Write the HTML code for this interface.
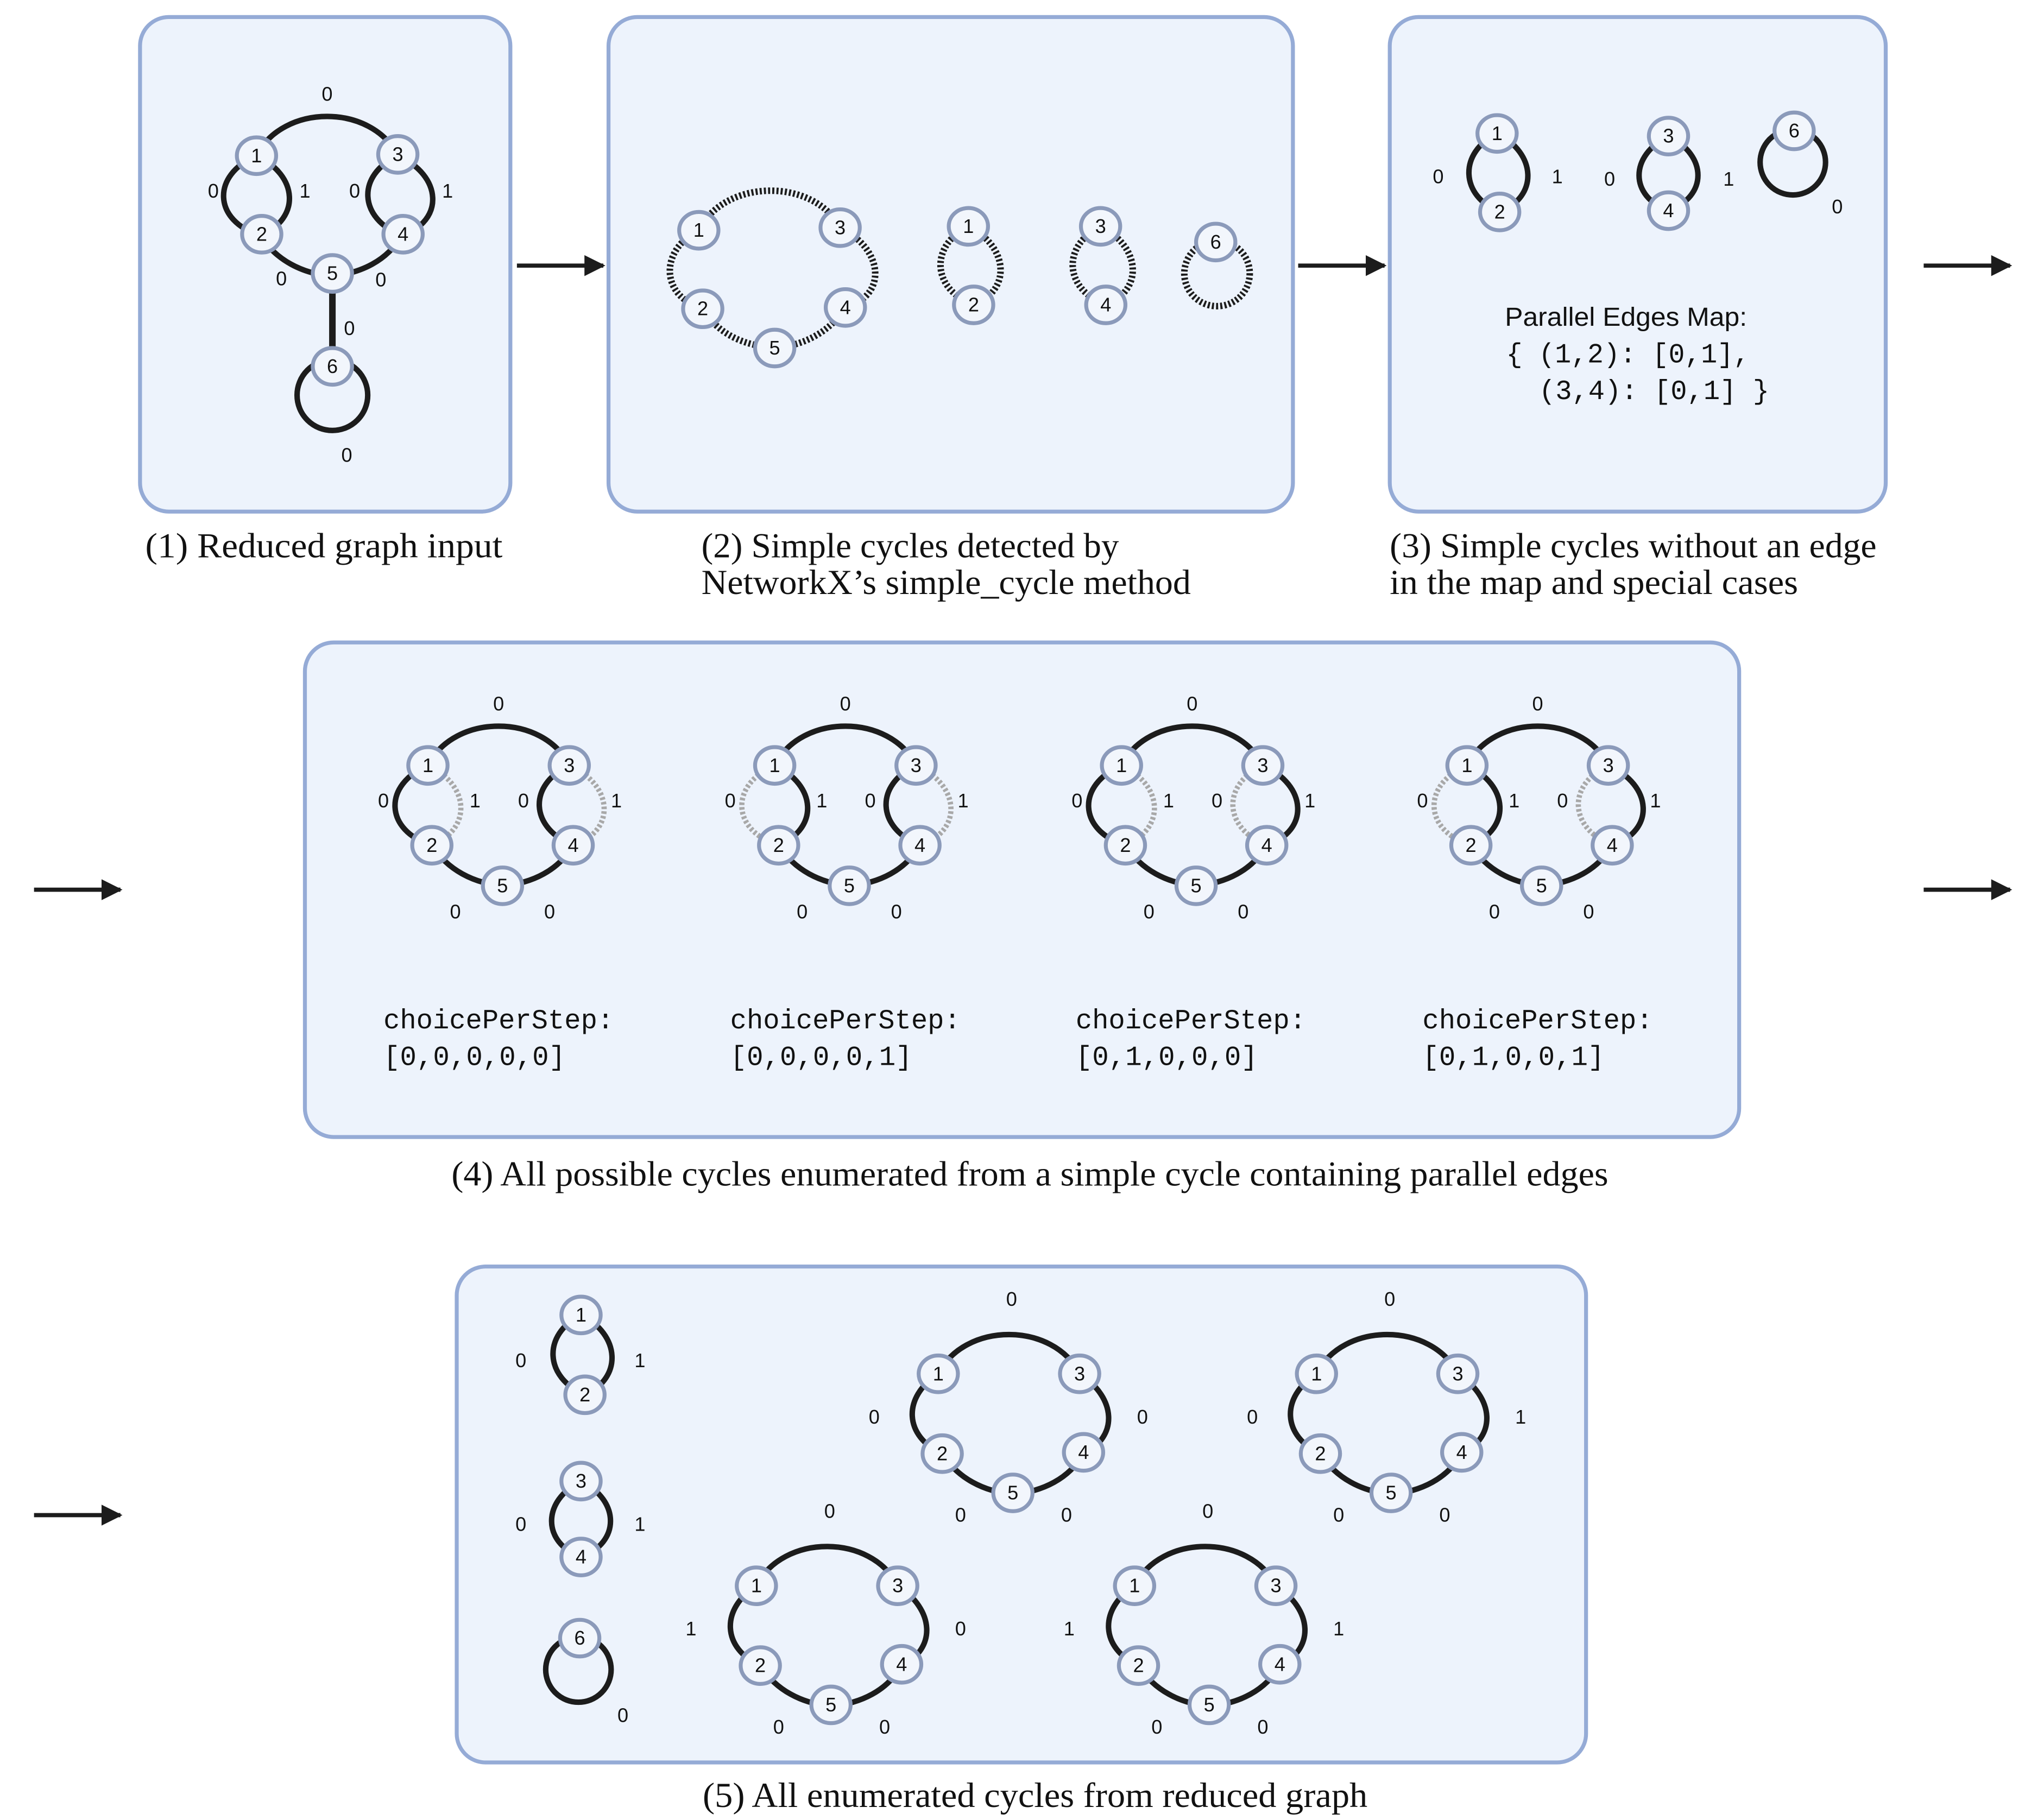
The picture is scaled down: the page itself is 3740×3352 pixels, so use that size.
<!DOCTYPE html>
<html><head><meta charset="utf-8"><style>
html,body{margin:0;padding:0;background:#fff;}
svg{display:block;}
.bx{fill:#edf3fc;stroke:#95abd6;stroke-width:3;}
.e{fill:none;stroke:#1c1c1c;stroke-width:4.2;}
.d{fill:none;stroke:#1c1c1c;stroke-width:5;stroke-dasharray:1.6 1.6;}
.g{fill:none;stroke:#a8a8a8;stroke-width:4;stroke-dasharray:2 1.6;}
.nd{fill:#f2f6fc;stroke:#8b9aba;stroke-width:3;}
.nt{font-family:"Liberation Sans",sans-serif;font-size:15px;text-anchor:middle;fill:#111;}
.lb{font-family:"Liberation Sans",sans-serif;font-size:15px;text-anchor:middle;fill:#111;}
.cap{font-family:"Liberation Serif",serif;font-size:27px;fill:#111;}
.mono{font-family:"Liberation Mono",monospace;font-size:21px;fill:#111;}
.mono2{font-family:"Liberation Mono",monospace;font-size:21px;fill:#111;}
.sans{font-family:"Liberation Sans",sans-serif;font-size:20px;fill:#111;}
.ar{stroke:#1c1c1c;stroke-width:3.2;}
</style></head><body>
<svg width="3740" height="3352" viewBox="0 0 1552 1391" xmlns="http://www.w3.org/2000/svg">
<defs>
<marker id="ah" viewBox="0 0 10 10" refX="9" refY="5" markerWidth="5" markerHeight="5" orient="auto" markerUnits="strokeWidth"><path d="M0,0L10,5L0,10z" fill="#1c1c1c"/></marker>
</defs>

<rect class="bx" x="107" y="13" width="283" height="378" rx="22"/>
<rect class="bx" x="465" y="13" width="523" height="378" rx="22"/>
<rect class="bx" x="1062" y="13" width="379" height="378" rx="22"/>
<rect class="bx" x="233" y="491" width="1096" height="378" rx="22"/>
<rect class="bx" x="349" y="968" width="863" height="379" rx="22"/>

<line class="ar" x1="395" y1="203" x2="461" y2="203" marker-end="url(#ah)"/>
<line class="ar" x1="992" y1="203" x2="1058" y2="203" marker-end="url(#ah)"/>
<line class="ar" x1="1470" y1="203" x2="1536" y2="203" marker-end="url(#ah)"/>
<line class="ar" x1="26" y1="680" x2="92" y2="680" marker-end="url(#ah)"/>
<line class="ar" x1="1470" y1="680" x2="1536" y2="680" marker-end="url(#ah)"/>
<line class="ar" x1="26" y1="1158" x2="92" y2="1158" marker-end="url(#ah)"/>

<text class="cap" x="111" y="426" textLength="273" lengthAdjust="spacingAndGlyphs">(1) Reduced graph input</text>
<text class="cap" x="536" y="426" textLength="319" lengthAdjust="spacingAndGlyphs">(2) Simple cycles detected by</text>
<text class="cap" x="536" y="454" textLength="374" lengthAdjust="spacingAndGlyphs">NetworkX’s simple_cycle method</text>
<text class="cap" x="1062" y="426" textLength="372" lengthAdjust="spacingAndGlyphs">(3) Simple cycles without an edge</text>
<text class="cap" x="1062" y="454" textLength="312" lengthAdjust="spacingAndGlyphs">in the map and special cases</text>
<text class="cap" x="345" y="906" textLength="884" lengthAdjust="spacingAndGlyphs">(4) All possible cycles enumerated from a simple cycle containing parallel edges</text>
<text class="cap" x="537" y="1381" textLength="508" lengthAdjust="spacingAndGlyphs">(5) All enumerated cycles from reduced graph</text>

<!-- Panel 1 -->
<g transform="translate(196,119)">
<path class="e" d="M0,0 C20,-40 88,-40 108,0"/>
<path class="e" d="M3,61 C15,80 35,90 57,92 M57,92 C80,90 100,80 111,61"/>
<path class="e" d="M0,0 C-35,15 -33,50 3,61"/>
<path class="e" d="M0,0 C32,15 34,48 3,61"/>
<path class="e" d="M108,0 C76,15 78,48 111,61"/>
<path class="e" d="M108,0 C142,15 144,50 111,61"/>
<line class="e" x1="58" y1="92" x2="58" y2="161" style="stroke-width:5"/>
<circle class="e" cx="58" cy="183" r="27"/>
<ellipse class="nd" cx="0" cy="0" rx="15" ry="14"/><text class="nt" x="0" y="5">1</text>
<ellipse class="nd" cx="108" cy="-1" rx="15" ry="14"/><text class="nt" x="108" y="4">3</text>
<ellipse class="nd" cx="4" cy="60" rx="15" ry="14"/><text class="nt" x="4" y="65">2</text>
<ellipse class="nd" cx="112" cy="60" rx="15" ry="14"/><text class="nt" x="112" y="65">4</text>
<ellipse class="nd" cx="58" cy="90" rx="15" ry="14"/><text class="nt" x="58" y="95">5</text>
<ellipse class="nd" cx="58" cy="161" rx="15" ry="14"/><text class="nt" x="58" y="166">6</text>
<text class="lb" x="54" y="-42">0</text>
<text class="lb" x="-33" y="32">0</text>
<text class="lb" x="37" y="32">1</text>
<text class="lb" x="75" y="32">0</text>
<text class="lb" x="146" y="32">1</text>
<text class="lb" x="19" y="99">0</text>
<text class="lb" x="95" y="100">0</text>
<text class="lb" x="71" y="137">0</text>
<text class="lb" x="69" y="234">0</text>
</g>

<!-- Panel 2 -->
<g transform="translate(534,176)">
<path class="d" d="M0,0 C20,-40 88,-40 108,-2"/>
<path class="d" d="M3,60 C15,80 35,88 58,90 M58,90 C80,88 100,78 112,59"/>
<path class="d" d="M0,0 C-30,15 -30,50 3,60"/>
<path class="d" d="M108,-2 C142,15 144,50 112,59"/>
<ellipse class="nd" cx="0" cy="0" rx="15" ry="14"/><text class="nt" x="0" y="5">1</text>
<ellipse class="nd" cx="108" cy="-2" rx="15" ry="14"/><text class="nt" x="108" y="3">3</text>
<ellipse class="nd" cx="3" cy="60" rx="15" ry="14"/><text class="nt" x="3" y="65">2</text>
<ellipse class="nd" cx="112" cy="59" rx="15" ry="14"/><text class="nt" x="112" y="64">4</text>
<ellipse class="nd" cx="58" cy="90" rx="15" ry="14"/><text class="nt" x="58" y="95">5</text>
</g>
<g transform="translate(740,173)">
<path class="d" d="M0,0 C-30,15 -28,48 4,60"/>
<path class="d" d="M0,0 C30,15 34,48 4,60"/>
<ellipse class="nd" cx="0" cy="0" rx="15" ry="14"/><text class="nt" x="0" y="5">1</text>
<ellipse class="nd" cx="4" cy="60" rx="15" ry="14"/><text class="nt" x="4" y="65">2</text>
</g>
<g transform="translate(841,173)">
<path class="d" d="M0,0 C-30,15 -28,48 4,60"/>
<path class="d" d="M0,0 C30,15 34,48 4,60"/>
<ellipse class="nd" cx="0" cy="0" rx="15" ry="14"/><text class="nt" x="0" y="5">3</text>
<ellipse class="nd" cx="4" cy="60" rx="15" ry="14"/><text class="nt" x="4" y="65">4</text>
</g>
<circle class="d" cx="930" cy="209" r="25"/>
<ellipse class="nd" cx="929" cy="185" rx="15" ry="14"/><text class="nt" x="929" y="190">6</text>

<!-- Panel 3 -->
<g transform="translate(1144,102)">
<path class="e" d="M0,0 C-30,15 -28,48 2,60"/>
<path class="e" d="M0,0 C30,15 32,48 2,60"/>
<ellipse class="nd" cx="0" cy="0" rx="15" ry="14"/><text class="nt" x="0" y="5">1</text>
<ellipse class="nd" cx="2" cy="60" rx="15" ry="14"/><text class="nt" x="2" y="65">2</text>
<text class="lb" x="-45" y="38">0</text>
<text class="lb" x="46" y="38">1</text>
</g>
<g transform="translate(1275,104)">
<path class="e" d="M0,0 C-30,15 -30,46 0,57"/>
<path class="e" d="M0,0 C30,15 30,46 0,57"/>
<ellipse class="nd" cx="0" cy="0" rx="15" ry="14"/><text class="nt" x="0" y="5">3</text>
<ellipse class="nd" cx="0" cy="57" rx="15" ry="14"/><text class="nt" x="0" y="62">4</text>
<text class="lb" x="-45" y="38">0</text>
<text class="lb" x="46" y="38">1</text>
</g>
<circle class="e" cx="1370" cy="124" r="25"/>
<ellipse class="nd" cx="1371" cy="100" rx="15" ry="14"/><text class="nt" x="1371" y="105">6</text>
<text class="lb" x="1404" y="163">0</text>
<text class="sans" x="1150" y="249" textLength="185" lengthAdjust="spacingAndGlyphs">Parallel Edges Map:</text>
<text class="mono" x="1151" y="277" textLength="186" lengthAdjust="spacingAndGlyphs">{ (1,2): [0,1],</text>
<text class="mono" x="1176" y="305" textLength="176" lengthAdjust="spacingAndGlyphs">(3,4): [0,1] }</text>

<!-- Panel 4 -->
<g transform="translate(327,585)">
<path class="e" d="M0,0 C20,-40 88,-40 108,0"/>
<path class="e" d="M3,61 C15,80 35,90 57,92 M57,92 C80,90 100,80 111,61"/>
<path class="e" d="M0,0 C-35,15 -33,50 3,61"/>
<path class="g" d="M0,0 C32,15 34,48 3,61"/>
<path class="e" d="M108,0 C76,15 78,48 111,61"/>
<path class="g" d="M108,0 C142,15 144,50 111,61"/>
<ellipse class="nd" cx="0" cy="0" rx="15" ry="14"/><text class="nt" x="0" y="5">1</text>
<ellipse class="nd" cx="108" cy="0" rx="15" ry="14"/><text class="nt" x="108" y="5">3</text>
<ellipse class="nd" cx="3" cy="61" rx="15" ry="14"/><text class="nt" x="3" y="66">2</text>
<ellipse class="nd" cx="111" cy="61" rx="15" ry="14"/><text class="nt" x="111" y="66">4</text>
<ellipse class="nd" cx="57" cy="92" rx="15" ry="14"/><text class="nt" x="57" y="97">5</text>
<text class="lb" x="54" y="-42">0</text><text class="lb" x="-34" y="32">0</text><text class="lb" x="36" y="32">1</text><text class="lb" x="73" y="32">0</text><text class="lb" x="144" y="32">1</text><text class="lb" x="21" y="117">0</text><text class="lb" x="93" y="117">0</text>
</g>
<g transform="translate(592,585)">
<path class="e" d="M0,0 C20,-40 88,-40 108,0"/>
<path class="e" d="M3,61 C15,80 35,90 57,92 M57,92 C80,90 100,80 111,61"/>
<path class="g" d="M0,0 C-35,15 -33,50 3,61"/>
<path class="e" d="M0,0 C32,15 34,48 3,61"/>
<path class="e" d="M108,0 C76,15 78,48 111,61"/>
<path class="g" d="M108,0 C142,15 144,50 111,61"/>
<ellipse class="nd" cx="0" cy="0" rx="15" ry="14"/><text class="nt" x="0" y="5">1</text>
<ellipse class="nd" cx="108" cy="0" rx="15" ry="14"/><text class="nt" x="108" y="5">3</text>
<ellipse class="nd" cx="3" cy="61" rx="15" ry="14"/><text class="nt" x="3" y="66">2</text>
<ellipse class="nd" cx="111" cy="61" rx="15" ry="14"/><text class="nt" x="111" y="66">4</text>
<ellipse class="nd" cx="57" cy="92" rx="15" ry="14"/><text class="nt" x="57" y="97">5</text>
<text class="lb" x="54" y="-42">0</text><text class="lb" x="-34" y="32">0</text><text class="lb" x="36" y="32">1</text><text class="lb" x="73" y="32">0</text><text class="lb" x="144" y="32">1</text><text class="lb" x="21" y="117">0</text><text class="lb" x="93" y="117">0</text>
</g>
<g transform="translate(857,585)">
<path class="e" d="M0,0 C20,-40 88,-40 108,0"/>
<path class="e" d="M3,61 C15,80 35,90 57,92 M57,92 C80,90 100,80 111,61"/>
<path class="e" d="M0,0 C-35,15 -33,50 3,61"/>
<path class="g" d="M0,0 C32,15 34,48 3,61"/>
<path class="g" d="M108,0 C76,15 78,48 111,61"/>
<path class="e" d="M108,0 C142,15 144,50 111,61"/>
<ellipse class="nd" cx="0" cy="0" rx="15" ry="14"/><text class="nt" x="0" y="5">1</text>
<ellipse class="nd" cx="108" cy="0" rx="15" ry="14"/><text class="nt" x="108" y="5">3</text>
<ellipse class="nd" cx="3" cy="61" rx="15" ry="14"/><text class="nt" x="3" y="66">2</text>
<ellipse class="nd" cx="111" cy="61" rx="15" ry="14"/><text class="nt" x="111" y="66">4</text>
<ellipse class="nd" cx="57" cy="92" rx="15" ry="14"/><text class="nt" x="57" y="97">5</text>
<text class="lb" x="54" y="-42">0</text><text class="lb" x="-34" y="32">0</text><text class="lb" x="36" y="32">1</text><text class="lb" x="73" y="32">0</text><text class="lb" x="144" y="32">1</text><text class="lb" x="21" y="117">0</text><text class="lb" x="93" y="117">0</text>
</g>
<g transform="translate(1121,585)">
<path class="e" d="M0,0 C20,-40 88,-40 108,0"/>
<path class="e" d="M3,61 C15,80 35,90 57,92 M57,92 C80,90 100,80 111,61"/>
<path class="g" d="M0,0 C-35,15 -33,50 3,61"/>
<path class="e" d="M0,0 C32,15 34,48 3,61"/>
<path class="g" d="M108,0 C76,15 78,48 111,61"/>
<path class="e" d="M108,0 C142,15 144,50 111,61"/>
<ellipse class="nd" cx="0" cy="0" rx="15" ry="14"/><text class="nt" x="0" y="5">1</text>
<ellipse class="nd" cx="108" cy="0" rx="15" ry="14"/><text class="nt" x="108" y="5">3</text>
<ellipse class="nd" cx="3" cy="61" rx="15" ry="14"/><text class="nt" x="3" y="66">2</text>
<ellipse class="nd" cx="111" cy="61" rx="15" ry="14"/><text class="nt" x="111" y="66">4</text>
<ellipse class="nd" cx="57" cy="92" rx="15" ry="14"/><text class="nt" x="57" y="97">5</text>
<text class="lb" x="54" y="-42">0</text><text class="lb" x="-34" y="32">0</text><text class="lb" x="36" y="32">1</text><text class="lb" x="73" y="32">0</text><text class="lb" x="144" y="32">1</text><text class="lb" x="21" y="117">0</text><text class="lb" x="93" y="117">0</text>
</g>
<text class="mono2" x="293" y="786" textLength="176" lengthAdjust="spacingAndGlyphs">choicePerStep:</text><text class="mono2" x="293" y="814" textLength="139" lengthAdjust="spacingAndGlyphs">[0,0,0,0,0]</text>
<text class="mono2" x="558" y="786" textLength="176" lengthAdjust="spacingAndGlyphs">choicePerStep:</text><text class="mono2" x="558" y="814" textLength="139" lengthAdjust="spacingAndGlyphs">[0,0,0,0,1]</text>
<text class="mono2" x="822" y="786" textLength="176" lengthAdjust="spacingAndGlyphs">choicePerStep:</text><text class="mono2" x="822" y="814" textLength="139" lengthAdjust="spacingAndGlyphs">[0,1,0,0,0]</text>
<text class="mono2" x="1087" y="786" textLength="176" lengthAdjust="spacingAndGlyphs">choicePerStep:</text><text class="mono2" x="1087" y="814" textLength="139" lengthAdjust="spacingAndGlyphs">[0,1,0,0,1]</text>

<!-- Panel 5 small -->
<g transform="translate(444,1005)">
<path class="e" d="M0,0 C-30,15 -28,48 3,61"/>
<path class="e" d="M0,0 C30,15 32,48 3,61"/>
<ellipse class="nd" cx="0" cy="0" rx="15" ry="14"/><text class="nt" x="0" y="5">1</text>
<ellipse class="nd" cx="3" cy="61" rx="15" ry="14"/><text class="nt" x="3" y="66">2</text>
<text class="lb" x="-46" y="40">0</text><text class="lb" x="45" y="40">1</text>
</g>
<g transform="translate(444,1132)">
<path class="e" d="M0,0 C-30,15 -30,47 0,58"/>
<path class="e" d="M0,0 C30,15 30,47 0,58"/>
<ellipse class="nd" cx="0" cy="0" rx="15" ry="14"/><text class="nt" x="0" y="5">3</text>
<ellipse class="nd" cx="0" cy="58" rx="15" ry="14"/><text class="nt" x="0" y="63">4</text>
<text class="lb" x="-46" y="38">0</text><text class="lb" x="45" y="38">1</text>
</g>
<circle class="e" cx="442" cy="1276" r="25"/>
<ellipse class="nd" cx="443" cy="1252" rx="15" ry="14"/><text class="nt" x="443" y="1257">6</text>
<text class="lb" x="476" y="1316">0</text>

<!-- Panel 5 rings -->
<g transform="translate(717,1050)">
<path class="e" d="M0,0 C20,-40 88,-40 108,0"/>
<path class="e" d="M3,61 C15,80 35,90 57,92 M57,92 C80,90 100,80 111,61"/>
<path class="e" d="M0,0 C-28,18 -26,48 3,61"/>
<path class="e" d="M108,0 C136,18 138,48 111,61"/>
<ellipse class="nd" cx="0" cy="0" rx="15" ry="14"/><text class="nt" x="0" y="5">1</text>
<ellipse class="nd" cx="108" cy="0" rx="15" ry="14"/><text class="nt" x="108" y="5">3</text>
<ellipse class="nd" cx="3" cy="61" rx="15" ry="14"/><text class="nt" x="3" y="66">2</text>
<ellipse class="nd" cx="111" cy="60" rx="15" ry="14"/><text class="nt" x="111" y="65">4</text>
<ellipse class="nd" cx="57" cy="91" rx="15" ry="14"/><text class="nt" x="57" y="96">5</text>
<text class="lb" x="56" y="-52">0</text><text class="lb" x="-49" y="38">0</text><text class="lb" x="156" y="38">0</text><text class="lb" x="17" y="113">0</text><text class="lb" x="98" y="113">0</text>
</g>
<g transform="translate(1006,1050)">
<path class="e" d="M0,0 C20,-40 88,-40 108,0"/>
<path class="e" d="M3,61 C15,80 35,90 57,92 M57,92 C80,90 100,80 111,61"/>
<path class="e" d="M0,0 C-28,18 -26,48 3,61"/>
<path class="e" d="M108,0 C136,18 138,48 111,61"/>
<ellipse class="nd" cx="0" cy="0" rx="15" ry="14"/><text class="nt" x="0" y="5">1</text>
<ellipse class="nd" cx="108" cy="0" rx="15" ry="14"/><text class="nt" x="108" y="5">3</text>
<ellipse class="nd" cx="3" cy="61" rx="15" ry="14"/><text class="nt" x="3" y="66">2</text>
<ellipse class="nd" cx="111" cy="60" rx="15" ry="14"/><text class="nt" x="111" y="65">4</text>
<ellipse class="nd" cx="57" cy="91" rx="15" ry="14"/><text class="nt" x="57" y="96">5</text>
<text class="lb" x="56" y="-52">0</text><text class="lb" x="-49" y="38">0</text><text class="lb" x="156" y="38">1</text><text class="lb" x="17" y="113">0</text><text class="lb" x="98" y="113">0</text>
</g>
<g transform="translate(578,1212)">
<path class="e" d="M0,0 C20,-40 88,-40 108,0"/>
<path class="e" d="M3,61 C15,80 35,90 57,92 M57,92 C80,90 100,80 111,61"/>
<path class="e" d="M0,0 C-28,18 -26,48 3,61"/>
<path class="e" d="M108,0 C136,18 138,48 111,61"/>
<ellipse class="nd" cx="0" cy="0" rx="15" ry="14"/><text class="nt" x="0" y="5">1</text>
<ellipse class="nd" cx="108" cy="0" rx="15" ry="14"/><text class="nt" x="108" y="5">3</text>
<ellipse class="nd" cx="3" cy="61" rx="15" ry="14"/><text class="nt" x="3" y="66">2</text>
<ellipse class="nd" cx="111" cy="60" rx="15" ry="14"/><text class="nt" x="111" y="65">4</text>
<ellipse class="nd" cx="57" cy="91" rx="15" ry="14"/><text class="nt" x="57" y="96">5</text>
<text class="lb" x="56" y="-52">0</text><text class="lb" x="-50" y="38">1</text><text class="lb" x="156" y="38">0</text><text class="lb" x="17" y="113">0</text><text class="lb" x="98" y="113">0</text>
</g>
<g transform="translate(867,1212)">
<path class="e" d="M0,0 C20,-40 88,-40 108,0"/>
<path class="e" d="M3,61 C15,80 35,90 57,92 M57,92 C80,90 100,80 111,61"/>
<path class="e" d="M0,0 C-28,18 -26,48 3,61"/>
<path class="e" d="M108,0 C136,18 138,48 111,61"/>
<ellipse class="nd" cx="0" cy="0" rx="15" ry="14"/><text class="nt" x="0" y="5">1</text>
<ellipse class="nd" cx="108" cy="0" rx="15" ry="14"/><text class="nt" x="108" y="5">3</text>
<ellipse class="nd" cx="3" cy="61" rx="15" ry="14"/><text class="nt" x="3" y="66">2</text>
<ellipse class="nd" cx="111" cy="60" rx="15" ry="14"/><text class="nt" x="111" y="65">4</text>
<ellipse class="nd" cx="57" cy="91" rx="15" ry="14"/><text class="nt" x="57" y="96">5</text>
<text class="lb" x="56" y="-52">0</text><text class="lb" x="-50" y="38">1</text><text class="lb" x="156" y="38">1</text><text class="lb" x="17" y="113">0</text><text class="lb" x="98" y="113">0</text>
</g>
</svg>
</body></html>
